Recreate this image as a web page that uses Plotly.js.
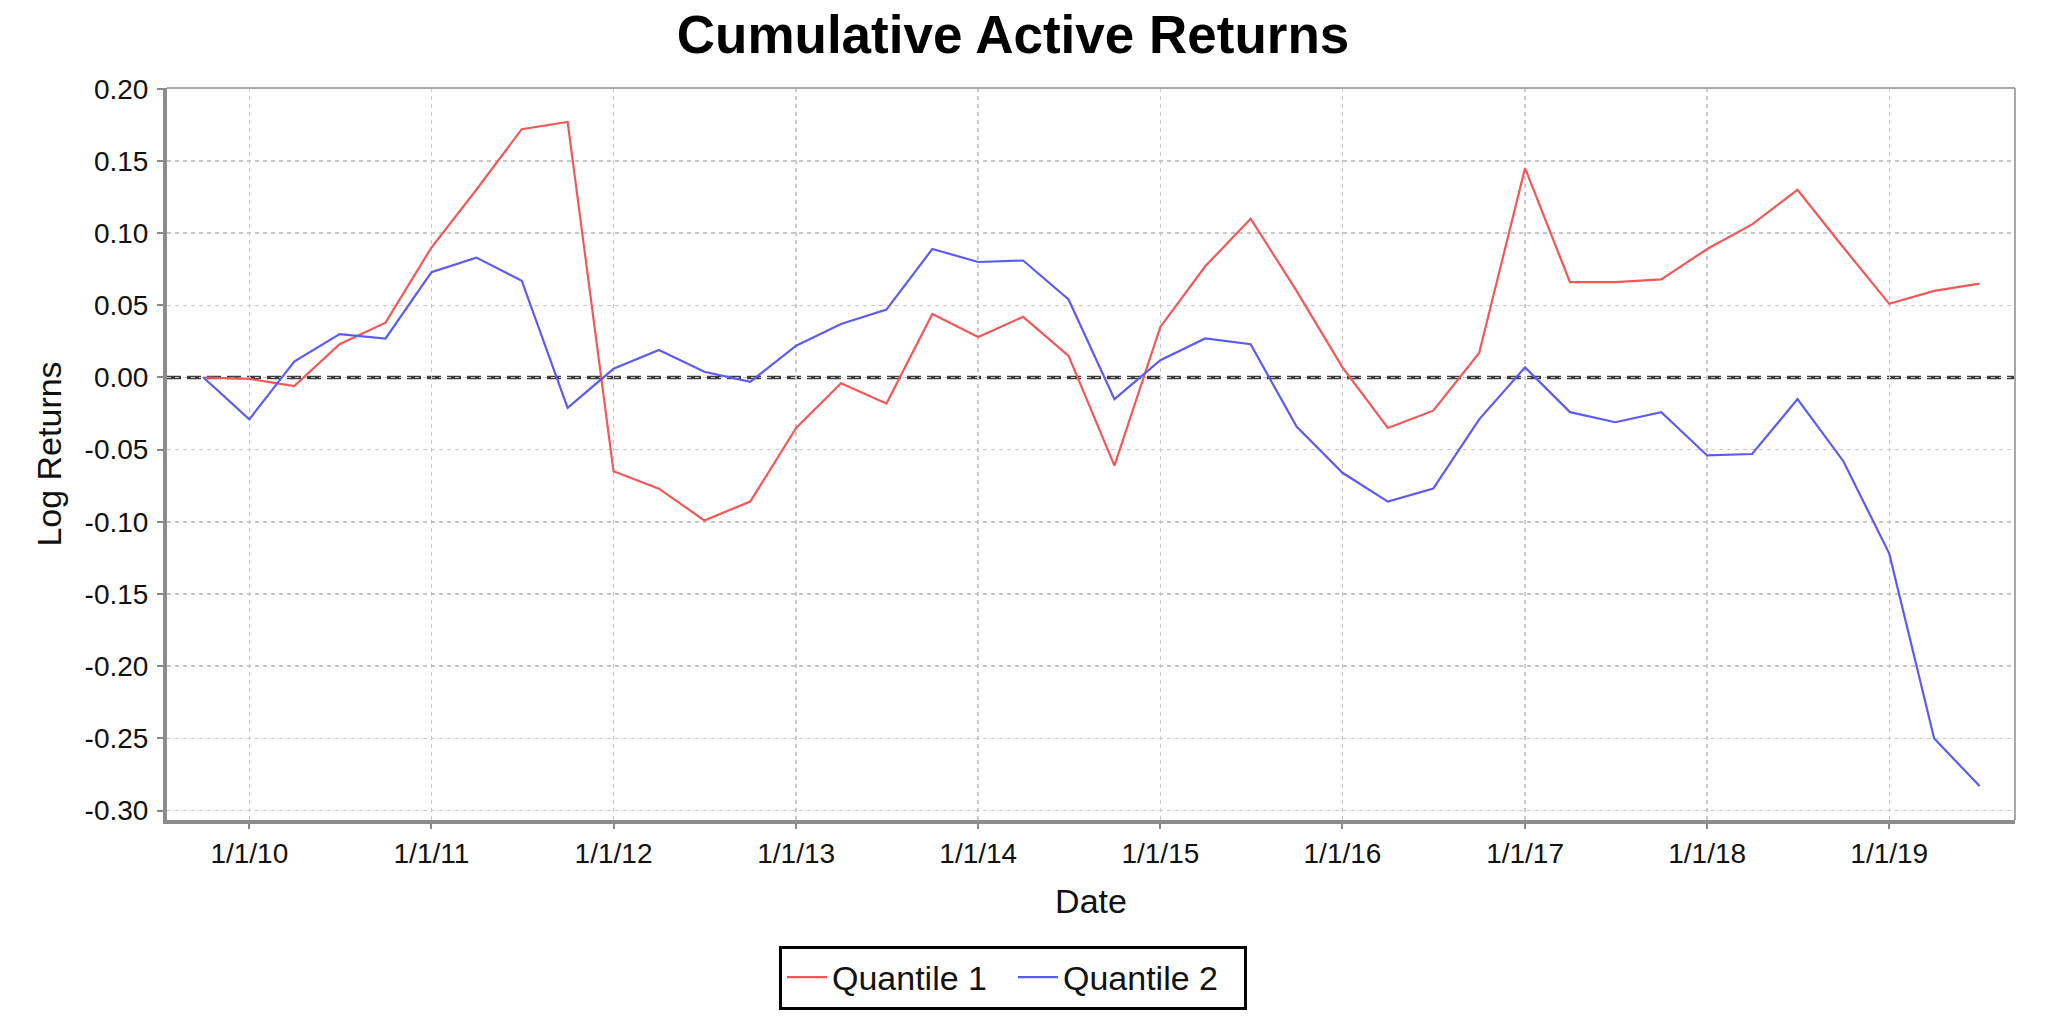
<!DOCTYPE html>
<html>
<head>
<meta charset="utf-8">
<script src="https://cdn.plot.ly/plotly-3.0.1.min.js"></script>
<style>
  html, body { margin: 0; padding: 0; background: #ffffff; }
  #chart { width: 2048px; height: 1020px; }
</style>
</head>
<body>
<div id="chart"></div>
<script>
const dates = [
  '2009-10-01','2010-01-01','2010-04-01','2010-07-01','2010-10-01',
  '2011-01-01','2011-04-01','2011-07-01','2011-10-01',
  '2012-01-01','2012-04-01','2012-07-01','2012-10-01',
  '2013-01-01','2013-04-01','2013-07-01','2013-10-01',
  '2014-01-01','2014-04-01','2014-07-01','2014-10-01',
  '2015-01-01','2015-04-01','2015-07-01','2015-10-01',
  '2016-01-01','2016-04-01','2016-07-01','2016-10-01',
  '2017-01-01','2017-04-01','2017-07-01','2017-10-01',
  '2018-01-01','2018-04-01','2018-07-01','2018-10-01',
  '2019-01-01','2019-04-01','2019-07-01'
];

const quantile1 = [
  0.000, -0.001, -0.006, 0.023, 0.038,
  0.090, 0.130, 0.172, 0.177,
  -0.065, -0.077, -0.099, -0.086,
  -0.035, -0.004, -0.018, 0.044,
  0.028, 0.042, 0.015, -0.061,
  0.035, 0.077, 0.110, 0.060,
  0.007, -0.035, -0.023, 0.017,
  0.145, 0.066, 0.066, 0.068,
  0.089, 0.106, 0.130, 0.090,
  0.051, 0.060, 0.065
];

const quantile2 = [
  0.000, -0.029, 0.011, 0.030, 0.027,
  0.073, 0.083, 0.067, -0.021,
  0.006, 0.019, 0.004, -0.003,
  0.022, 0.037, 0.047, 0.089,
  0.080, 0.081, 0.054, -0.015,
  0.012, 0.027, 0.023, -0.034,
  -0.066, -0.086, -0.077, -0.029,
  0.007, -0.024, -0.031, -0.024,
  -0.054, -0.053, -0.015, -0.058,
  -0.122, -0.250, -0.283
];

const seriesNames = ['Quantile 1', 'Quantile 2'];

const xTickVals = ['2010-01-01','2011-01-01','2012-01-01','2013-01-01','2014-01-01',
                   '2015-01-01','2016-01-01','2017-01-01','2018-01-01','2019-01-01'];
const xTickText = ['1/1/10','1/1/11','1/1/12','1/1/13','1/1/14',
                   '1/1/15','1/1/16','1/1/17','1/1/18','1/1/19'];

const yTickVals = [0.20, 0.15, 0.10, 0.05, 0.00, -0.05, -0.10, -0.15, -0.20, -0.25, -0.30];
const yTickText = ['0.20','0.15','0.10','0.05','0.00','-0.05','-0.10','-0.15','-0.20','-0.25','-0.30'];

const FONT = '"Liberation Sans", Arial, "DejaVu Sans", sans-serif';

const traces = [
  {
    x: dates, y: quantile1, name: seriesNames[0], type: 'scatter', mode: 'lines',
    line: { color: 'rgb(242,88,88)', width: 2.2 }
  },
  {
    x: dates, y: quantile2, name: seriesNames[1], type: 'scatter', mode: 'lines',
    line: { color: 'rgb(92,92,242)', width: 2.2 }
  }
];

const gridStyle = {
  showgrid: true,
  gridcolor: '#c8c8c8',
  gridwidth: 1.5,
  griddash: '4px,4px'
};

const layout = {
  width: 2048,
  height: 1020,
  paper_bgcolor: '#ffffff',
  plot_bgcolor: '#ffffff',
  margin: { l: 167, r: 33, t: 88, b: 199, pad: 0 },
  font: { family: FONT, color: '#111111', size: 28 },
  title: {
    text: '<b>Cumulative Active Returns</b>',
    font: { family: FONT, size: 53, color: '#000000' },
    x: 1013 / 2048, xref: 'container', xanchor: 'center',
    y: 1 - 34 / 1020, yref: 'container', yanchor: 'middle'
  },
  xaxis: Object.assign({
    type: 'date',
    range: ['2009-07-20', '2019-09-10'],
    tickvals: xTickVals,
    ticktext: xTickText,
    ticks: 'outside',
    ticklen: 5,
    tickwidth: 2,
    tickcolor: '#888888',
    tickfont: { family: FONT, size: 28, color: '#111111' },
    showline: true,
    linecolor: '#8c8c8c',
    linewidth: 4,
    mirror: false,
    zeroline: false,
    automargin: false,
    title: {
      text: 'Date',
      font: { family: FONT, size: 34, color: '#111111' },
      standoff: 23
    }
  }, gridStyle),
  yaxis: Object.assign({
    range: [-0.3065, 0.2005],
    tickvals: yTickVals,
    ticktext: yTickText,
    ticks: 'outside',
    ticklen: 6,
    tickwidth: 2,
    tickcolor: '#888888',
    tickfont: { family: FONT, size: 28, color: '#111111' },
    ticklabelstandoff: 3,
    showline: true,
    linecolor: '#8c8c8c',
    linewidth: 4,
    mirror: false,
    zeroline: false,
    automargin: false,
    title: {
      text: 'Log Returns',
      font: { family: FONT, size: 34, color: '#111111' },
      standoff: 14
    }
  }, gridStyle),
  shapes: [
    {
      type: 'line', xref: 'paper', yref: 'y',
      x0: 0, x1: 1, y0: 0, y1: 0,
      line: { color: '#3c3c3c', width: 3.5, dash: '14px,6px' },
      layer: 'below'
    },
    {
      type: 'line', xref: 'paper', yref: 'paper',
      x0: 0, x1: 1, y0: 1, y1: 1,
      line: { color: '#a8a8a8', width: 2 },
      layer: 'above'
    },
    {
      type: 'line', xref: 'paper', yref: 'paper',
      x0: 1, x1: 1, y0: 0, y1: 1,
      line: { color: '#a8a8a8', width: 2 },
      layer: 'above'
    }
  ],
  showlegend: true,
  legend: {
    orientation: 'h',
    x: (1013 - 167) / 1848, xanchor: 'center',
    y: -0.170, yanchor: 'top',
    bordercolor: '#000000',
    borderwidth: 3,
    bgcolor: '#ffffff',
    font: { family: FONT, size: 34, color: '#111111' },
    itemwidth: 40,
    entrywidth: 176,
    entrywidthmode: 'pixels'
  }
};

Plotly.newPlot('chart', traces, layout, { displayModeBar: false, responsive: false, staticPlot: true });
</script>
</body>
</html>
